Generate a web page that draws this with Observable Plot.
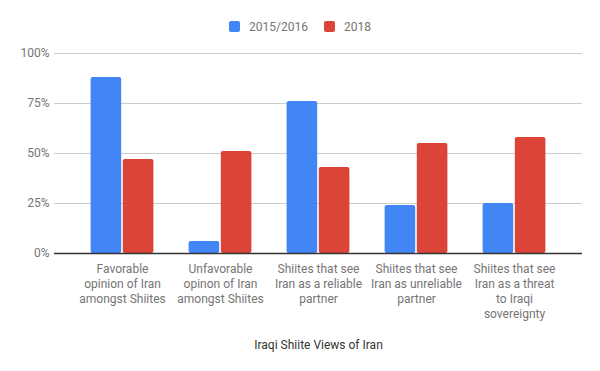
<!DOCTYPE html>
<html>
<head>
<meta charset="utf-8">
<script src="https://cdn.jsdelivr.net/npm/d3@7"></script>
<script src="https://cdn.jsdelivr.net/npm/@observablehq/plot@0.6"></script>
<style>
  html, body { margin: 0; padding: 0; background: #fff; }
  body { width: 600px; height: 371px; overflow: hidden; font-family: Roboto, "Noto Sans", sans-serif; }
  #legend { height: 40px; box-sizing: border-box; padding-top: 13px; display: flex; justify-content: center; align-items: center; font-size: 12px; color: #757575; }
  .item { display: flex; align-items: center; margin: 0 8px; }
  .sw { width: 11px; height: 11px; border-radius: 2px; margin-right: 9px; }
  svg { display: block; }
</style>
</head>
<body>
<div id="legend"></div>
<div id="chart"></div>
<script>
const categories = [
  "Favorable\nopinion of Iran\namongst Shiites",
  "Unfavorable\nopinon of Iran\namongst Shiites",
  "Shiites that see\nIran as a reliable\npartner",
  "Shiites that see\nIran as unreliable\npartner",
  "Shiites that see\nIran as a threat\nto Iraqi\nsovereignty"
];
const series = ["2015/2016", "2018"];
const values2015 = [0.88, 0.06, 0.76, 0.24, 0.25];
const values2018 = [0.47, 0.51, 0.43, 0.55, 0.58];
const colors = ["#4285F4", "#DB4437"];
const yTicks = [0, 0.25, 0.5, 0.75, 1];
const axisTitle = "Iraqi Shiite Views of Iran";

const rows = categories.flatMap((c, i) => [
  {category: c, series: series[0], value: values2015[i]},
  {category: c, series: series[1], value: values2018[i]}
]);

// legend
const legend = document.getElementById("legend");
series.forEach((s, i) => {
  const item = document.createElement("div");
  item.className = "item";
  const sw = document.createElement("div");
  sw.className = "sw";
  sw.style.background = colors[i];
  const label = document.createElement("span");
  label.textContent = s;
  item.appendChild(sw);
  item.appendChild(label);
  legend.appendChild(item);
});

const chart = Plot.plot({
  width: 600,
  height: 331,
  marginLeft: 54,
  marginRight: 18,
  marginTop: 13,
  marginBottom: 118,
  style: {fontFamily: "Roboto, 'Noto Sans', sans-serif", fontSize: "12px", background: "#fff"},
  x: {domain: categories, paddingInner: 0, paddingOuter: 0.175, label: null},
  y: {domain: [0, 1], label: null},
  marks: [
    Plot.ruleY(yTicks.filter(t => t > 0), {stroke: "#cccccc", strokeWidth: 1}),
    Plot.barY(rows.filter(d => d.series === series[0]), {
      x: "category", y: "value", fill: colors[0],
      insetLeft: 17.6, insetRight: 49.8, rx: 2
    }),
    Plot.barY(rows.filter(d => d.series === series[1]), {
      x: "category", y: "value", fill: colors[1],
      insetLeft: 49.8, insetRight: 17.6, rx: 2
    }),
    Plot.ruleY([0], {stroke: "#333333", strokeWidth: 1.3}),
    Plot.axisY({
      ticks: yTicks, tickFormat: d3.format(".0%"), tickSize: 0, tickPadding: 5,
      fill: "#757575", fontSize: 12, label: null
    }),
    Plot.axisX({
      tickSize: 0, tickPadding: 9, fill: "#757575", fontSize: 12,
      lineHeight: 1.25, label: null
    }),
    Plot.text([axisTitle], {
      text: d => d, frameAnchor: "bottom", dy: 92, lineAnchor: "middle",
      fill: "#333333", fontSize: 12
    })
  ]
});
document.getElementById("chart").appendChild(chart);
</script>
</body>
</html>
